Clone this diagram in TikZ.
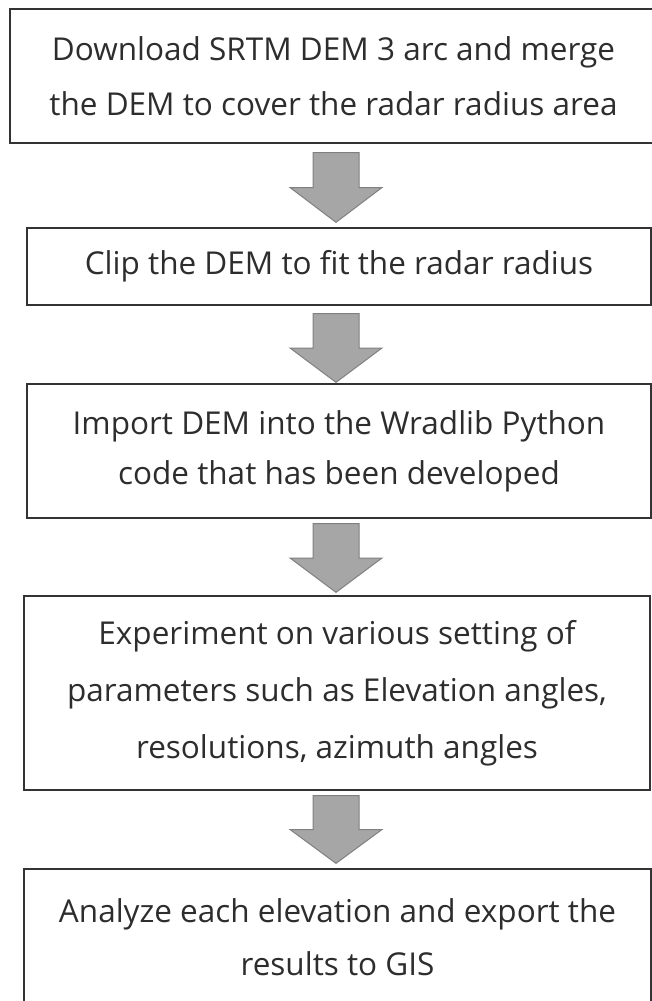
\documentclass[tikz,border=0pt]{standalone}
\usepackage{fontspec}
\setmainfont{Open Sans}
\usetikzlibrary{calc}
\definecolor{boxline}{RGB}{51,51,51}
\definecolor{txt}{RGB}{45,45,45}
\definecolor{arrfill}{RGB}{166,166,166}
\definecolor{arrline}{RGB}{128,128,128}
\tikzset{
  stepbox/.style={draw=boxline, line width=1.3pt, rectangle, inner sep=0pt,
    align=center, text=txt, font=\fontsize{31.5}{55}\selectfont},
  blockarr/.style={fill=arrfill, draw=arrline, line width=1pt, line join=miter},
}
% #1 from node, #2 to node, #3 gap below #1, #4 gap above #2
\newcommand{\blockarrow}[4]{%
  \path ($(#1.south -| ax)+(0,#3)$) coordinate (arrtop)
        ($(#2.north -| ax)+(0,-#4)$) coordinate (arrtip);
  \draw[blockarr] let \p1=(arrtop), \p2=(arrtip), \p3=($(arrtop)!0.5!(arrtip)$) in
    (\x1-23pt,\y1) -- (\x1+23pt,\y1) -- (\x1+23pt,\y3) -- (\x1+46pt,\y3)
    -- (\x2,\y2) -- (\x1-46pt,\y3) -- (\x1-23pt,\y3) -- cycle;}
\begin{document}
\begin{tikzpicture}[x=1pt,y=-1pt]
\useasboundingbox (0,0) rectangle (652,1001);
\clip (0,0) rectangle (652,1001);
\coordinate (ax) at (336,0);
\node[stepbox, minimum width=647pt, minimum height=134pt] (b1) at (333.5,76)
  {Download SRTM DEM 3 arc and merge\\the DEM to cover the radar radius area};
\node[stepbox, minimum width=624pt, minimum height=77pt] (b2) at (339,266.5)
  {Clip the DEM to fit the radar radius};
\node[stepbox, minimum width=624pt, minimum height=134pt, font=\fontsize{31.5}{50}\selectfont] (b3) at (339,451)
  {Import DEM into the Wradlib Python\\code that has been developed};
\node[stepbox, minimum width=626pt, minimum height=194pt, font=\fontsize{31.5}{57}\selectfont] (b4) at (337,693)
  {Experiment on various setting of\\parameters such as Elevation angles,\\resolutions, azimuth angles};
\node[stepbox, minimum width=627pt, minimum height=136pt, font=\fontsize{31.5}{53}\selectfont] (b5) at (337.5,937)
  {Analyze each elevation and export the\\results to GIS};
\blockarrow{b1}{b2}{9}{5}
\blockarrow{b2}{b3}{8}{1}
\blockarrow{b3}{b4}{5}{3}
\blockarrow{b4}{b5}{5}{5}
\end{tikzpicture}
\end{document}
